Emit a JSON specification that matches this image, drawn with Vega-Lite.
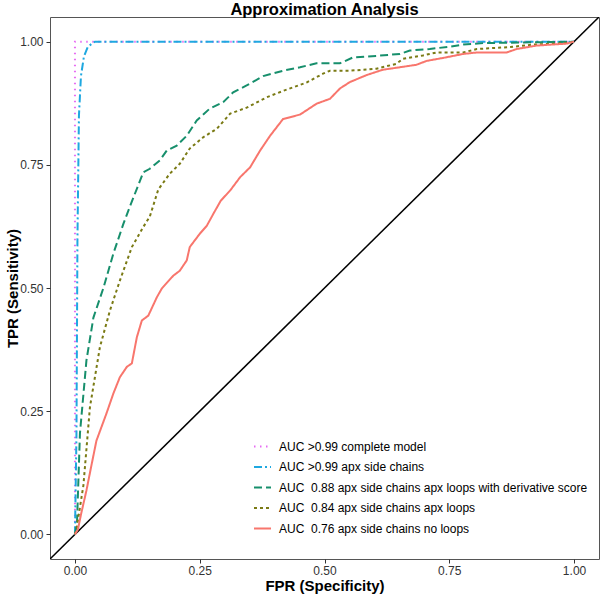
{
  "$schema": "https://vega.github.io/schema/vega-lite/v6.json",
  "autosize": "none",
  "width": 549,
  "height": 542,
  "padding": {"left": 50, "top": 17, "right": 1, "bottom": 37},
  "background": "white",
  "title": {"text": "Approximation Analysis", "font": "Liberation Sans", "fontSize": 16.5, "fontWeight": "bold", "color": "black", "anchor": "middle", "offset": -1},
  "config": {
    "view": {"stroke": "#555555", "strokeWidth": 1},
    "axis": {"grid": false, "domain": false, "labelFont": "Liberation Sans", "labelFontSize": 12, "labelColor": "#333333", "tickColor": "#333333", "tickSize": 4, "titleFont": "Liberation Sans", "titleFontSize": 15, "titleFontWeight": "bold", "titleColor": "black"}
  },
  "datasets": {
    "roc": [
      {"model": "AUC >0.99 complete model", "s": 1, "fpr": 0, "tpr": 0},
      {"model": "AUC >0.99 complete model", "s": 2, "fpr": 0, "tpr": 1},
      {"model": "AUC >0.99 complete model", "s": 3, "fpr": 1, "tpr": 1},

      {"model": "AUC >0.99 apx side chains", "s": 1, "fpr": 0, "tpr": 0},
      {"model": "AUC >0.99 apx side chains", "s": 2, "fpr": 0.003, "tpr": 0.2},
      {"model": "AUC >0.99 apx side chains", "s": 3, "fpr": 0.005, "tpr": 0.6},
      {"model": "AUC >0.99 apx side chains", "s": 4, "fpr": 0.008, "tpr": 0.85},
      {"model": "AUC >0.99 apx side chains", "s": 5, "fpr": 0.012, "tpr": 0.93},
      {"model": "AUC >0.99 apx side chains", "s": 6, "fpr": 0.018, "tpr": 0.97},
      {"model": "AUC >0.99 apx side chains", "s": 7, "fpr": 0.026, "tpr": 0.99},
      {"model": "AUC >0.99 apx side chains", "s": 8, "fpr": 0.04, "tpr": 1},
      {"model": "AUC >0.99 apx side chains", "s": 9, "fpr": 1, "tpr": 1},

      {"model": "AUC\u00a0 0.88 apx side chains apx loops with derivative score", "s": 1, "fpr": 0, "tpr": 0},
      {"model": "AUC\u00a0 0.88 apx side chains apx loops with derivative score", "s": 2, "fpr": 0.004, "tpr": 0.02},
      {"model": "AUC\u00a0 0.88 apx side chains apx loops with derivative score", "s": 3, "fpr": 0.01, "tpr": 0.205},
      {"model": "AUC\u00a0 0.88 apx side chains apx loops with derivative score", "s": 4, "fpr": 0.023, "tpr": 0.353},
      {"model": "AUC\u00a0 0.88 apx side chains apx loops with derivative score", "s": 5, "fpr": 0.037, "tpr": 0.44},
      {"model": "AUC\u00a0 0.88 apx side chains apx loops with derivative score", "s": 6, "fpr": 0.057, "tpr": 0.5},
      {"model": "AUC\u00a0 0.88 apx side chains apx loops with derivative score", "s": 7, "fpr": 0.077, "tpr": 0.57},
      {"model": "AUC\u00a0 0.88 apx side chains apx loops with derivative score", "s": 8, "fpr": 0.097, "tpr": 0.63},
      {"model": "AUC\u00a0 0.88 apx side chains apx loops with derivative score", "s": 9, "fpr": 0.11, "tpr": 0.665},
      {"model": "AUC\u00a0 0.88 apx side chains apx loops with derivative score", "s": 10, "fpr": 0.137, "tpr": 0.735},
      {"model": "AUC\u00a0 0.88 apx side chains apx loops with derivative score", "s": 11, "fpr": 0.15, "tpr": 0.742},
      {"model": "AUC\u00a0 0.88 apx side chains apx loops with derivative score", "s": 12, "fpr": 0.17, "tpr": 0.759},
      {"model": "AUC\u00a0 0.88 apx side chains apx loops with derivative score", "s": 13, "fpr": 0.184, "tpr": 0.779},
      {"model": "AUC\u00a0 0.88 apx side chains apx loops with derivative score", "s": 14, "fpr": 0.204, "tpr": 0.789},
      {"model": "AUC\u00a0 0.88 apx side chains apx loops with derivative score", "s": 15, "fpr": 0.224, "tpr": 0.809},
      {"model": "AUC\u00a0 0.88 apx side chains apx loops with derivative score", "s": 16, "fpr": 0.244, "tpr": 0.84},
      {"model": "AUC\u00a0 0.88 apx side chains apx loops with derivative score", "s": 17, "fpr": 0.27, "tpr": 0.864},
      {"model": "AUC\u00a0 0.88 apx side chains apx loops with derivative score", "s": 18, "fpr": 0.297, "tpr": 0.877},
      {"model": "AUC\u00a0 0.88 apx side chains apx loops with derivative score", "s": 19, "fpr": 0.317, "tpr": 0.897},
      {"model": "AUC\u00a0 0.88 apx side chains apx loops with derivative score", "s": 20, "fpr": 0.344, "tpr": 0.911},
      {"model": "AUC\u00a0 0.88 apx side chains apx loops with derivative score", "s": 21, "fpr": 0.377, "tpr": 0.93},
      {"model": "AUC\u00a0 0.88 apx side chains apx loops with derivative score", "s": 22, "fpr": 0.417, "tpr": 0.941},
      {"model": "AUC\u00a0 0.88 apx side chains apx loops with derivative score", "s": 23, "fpr": 0.451, "tpr": 0.948},
      {"model": "AUC\u00a0 0.88 apx side chains apx loops with derivative score", "s": 24, "fpr": 0.484, "tpr": 0.956},
      {"model": "AUC\u00a0 0.88 apx side chains apx loops with derivative score", "s": 25, "fpr": 0.531, "tpr": 0.956},
      {"model": "AUC\u00a0 0.88 apx side chains apx loops with derivative score", "s": 26, "fpr": 0.557, "tpr": 0.968},
      {"model": "AUC\u00a0 0.88 apx side chains apx loops with derivative score", "s": 27, "fpr": 0.604, "tpr": 0.971},
      {"model": "AUC\u00a0 0.88 apx side chains apx loops with derivative score", "s": 28, "fpr": 0.651, "tpr": 0.975},
      {"model": "AUC\u00a0 0.88 apx side chains apx loops with derivative score", "s": 29, "fpr": 0.671, "tpr": 0.982},
      {"model": "AUC\u00a0 0.88 apx side chains apx loops with derivative score", "s": 30, "fpr": 0.711, "tpr": 0.985},
      {"model": "AUC\u00a0 0.88 apx side chains apx loops with derivative score", "s": 31, "fpr": 0.752, "tpr": 0.99},
      {"model": "AUC\u00a0 0.88 apx side chains apx loops with derivative score", "s": 32, "fpr": 0.778, "tpr": 0.994},
      {"model": "AUC\u00a0 0.88 apx side chains apx loops with derivative score", "s": 33, "fpr": 0.818, "tpr": 0.997},
      {"model": "AUC\u00a0 0.88 apx side chains apx loops with derivative score", "s": 34, "fpr": 1, "tpr": 1},

      {"model": "AUC\u00a0 0.84 apx side chains apx loops", "s": 1, "fpr": 0, "tpr": 0},
      {"model": "AUC\u00a0 0.84 apx side chains apx loops", "s": 2, "fpr": 0.003, "tpr": 0.01},
      {"model": "AUC\u00a0 0.84 apx side chains apx loops", "s": 3, "fpr": 0.017, "tpr": 0.1},
      {"model": "AUC\u00a0 0.84 apx side chains apx loops", "s": 4, "fpr": 0.03, "tpr": 0.258},
      {"model": "AUC\u00a0 0.84 apx side chains apx loops", "s": 5, "fpr": 0.05, "tpr": 0.38},
      {"model": "AUC\u00a0 0.84 apx side chains apx loops", "s": 6, "fpr": 0.07, "tpr": 0.454},
      {"model": "AUC\u00a0 0.84 apx side chains apx loops", "s": 7, "fpr": 0.09, "tpr": 0.515},
      {"model": "AUC\u00a0 0.84 apx side chains apx loops", "s": 8, "fpr": 0.114, "tpr": 0.583},
      {"model": "AUC\u00a0 0.84 apx side chains apx loops", "s": 9, "fpr": 0.137, "tpr": 0.624},
      {"model": "AUC\u00a0 0.84 apx side chains apx loops", "s": 10, "fpr": 0.15, "tpr": 0.645},
      {"model": "AUC\u00a0 0.84 apx side chains apx loops", "s": 11, "fpr": 0.167, "tpr": 0.7},
      {"model": "AUC\u00a0 0.84 apx side chains apx loops", "s": 12, "fpr": 0.19, "tpr": 0.732},
      {"model": "AUC\u00a0 0.84 apx side chains apx loops", "s": 13, "fpr": 0.21, "tpr": 0.752},
      {"model": "AUC\u00a0 0.84 apx side chains apx loops", "s": 14, "fpr": 0.23, "tpr": 0.783},
      {"model": "AUC\u00a0 0.84 apx side chains apx loops", "s": 15, "fpr": 0.257, "tpr": 0.806},
      {"model": "AUC\u00a0 0.84 apx side chains apx loops", "s": 16, "fpr": 0.284, "tpr": 0.823},
      {"model": "AUC\u00a0 0.84 apx side chains apx loops", "s": 17, "fpr": 0.311, "tpr": 0.854},
      {"model": "AUC\u00a0 0.84 apx side chains apx loops", "s": 18, "fpr": 0.344, "tpr": 0.866},
      {"model": "AUC\u00a0 0.84 apx side chains apx loops", "s": 19, "fpr": 0.384, "tpr": 0.887},
      {"model": "AUC\u00a0 0.84 apx side chains apx loops", "s": 20, "fpr": 0.417, "tpr": 0.9},
      {"model": "AUC\u00a0 0.84 apx side chains apx loops", "s": 21, "fpr": 0.464, "tpr": 0.917},
      {"model": "AUC\u00a0 0.84 apx side chains apx loops", "s": 22, "fpr": 0.497, "tpr": 0.935},
      {"model": "AUC\u00a0 0.84 apx side chains apx loops", "s": 23, "fpr": 0.511, "tpr": 0.941},
      {"model": "AUC\u00a0 0.84 apx side chains apx loops", "s": 24, "fpr": 0.551, "tpr": 0.941},
      {"model": "AUC\u00a0 0.84 apx side chains apx loops", "s": 25, "fpr": 0.604, "tpr": 0.945},
      {"model": "AUC\u00a0 0.84 apx side chains apx loops", "s": 26, "fpr": 0.644, "tpr": 0.955},
      {"model": "AUC\u00a0 0.84 apx side chains apx loops", "s": 27, "fpr": 0.657, "tpr": 0.965},
      {"model": "AUC\u00a0 0.84 apx side chains apx loops", "s": 28, "fpr": 0.697, "tpr": 0.972},
      {"model": "AUC\u00a0 0.84 apx side chains apx loops", "s": 29, "fpr": 0.725, "tpr": 0.978},
      {"model": "AUC\u00a0 0.84 apx side chains apx loops", "s": 30, "fpr": 0.778, "tpr": 0.978},
      {"model": "AUC\u00a0 0.84 apx side chains apx loops", "s": 31, "fpr": 0.805, "tpr": 0.985},
      {"model": "AUC\u00a0 0.84 apx side chains apx loops", "s": 32, "fpr": 0.872, "tpr": 0.989},
      {"model": "AUC\u00a0 0.84 apx side chains apx loops", "s": 33, "fpr": 0.918, "tpr": 0.994},
      {"model": "AUC\u00a0 0.84 apx side chains apx loops", "s": 34, "fpr": 0.985, "tpr": 0.997},
      {"model": "AUC\u00a0 0.84 apx side chains apx loops", "s": 35, "fpr": 1, "tpr": 1},

      {"model": "AUC\u00a0 0.76 apx side chains no loops", "s": 1, "fpr": 0, "tpr": 0},
      {"model": "AUC\u00a0 0.76 apx side chains no loops", "s": 2, "fpr": 0.006, "tpr": 0.01},
      {"model": "AUC\u00a0 0.76 apx side chains no loops", "s": 3, "fpr": 0.012, "tpr": 0.04},
      {"model": "AUC\u00a0 0.76 apx side chains no loops", "s": 4, "fpr": 0.023, "tpr": 0.089},
      {"model": "AUC\u00a0 0.76 apx side chains no loops", "s": 5, "fpr": 0.033, "tpr": 0.14},
      {"model": "AUC\u00a0 0.76 apx side chains no loops", "s": 6, "fpr": 0.043, "tpr": 0.19},
      {"model": "AUC\u00a0 0.76 apx side chains no loops", "s": 7, "fpr": 0.063, "tpr": 0.245},
      {"model": "AUC\u00a0 0.76 apx side chains no loops", "s": 8, "fpr": 0.077, "tpr": 0.286},
      {"model": "AUC\u00a0 0.76 apx side chains no loops", "s": 9, "fpr": 0.09, "tpr": 0.319},
      {"model": "AUC\u00a0 0.76 apx side chains no loops", "s": 10, "fpr": 0.104, "tpr": 0.34},
      {"model": "AUC\u00a0 0.76 apx side chains no loops", "s": 11, "fpr": 0.114, "tpr": 0.347},
      {"model": "AUC\u00a0 0.76 apx side chains no loops", "s": 12, "fpr": 0.124, "tpr": 0.4},
      {"model": "AUC\u00a0 0.76 apx side chains no loops", "s": 13, "fpr": 0.134, "tpr": 0.434},
      {"model": "AUC\u00a0 0.76 apx side chains no loops", "s": 14, "fpr": 0.147, "tpr": 0.444},
      {"model": "AUC\u00a0 0.76 apx side chains no loops", "s": 15, "fpr": 0.164, "tpr": 0.481},
      {"model": "AUC\u00a0 0.76 apx side chains no loops", "s": 16, "fpr": 0.174, "tpr": 0.499},
      {"model": "AUC\u00a0 0.76 apx side chains no loops", "s": 17, "fpr": 0.197, "tpr": 0.525},
      {"model": "AUC\u00a0 0.76 apx side chains no loops", "s": 18, "fpr": 0.21, "tpr": 0.535},
      {"model": "AUC\u00a0 0.76 apx side chains no loops", "s": 19, "fpr": 0.224, "tpr": 0.556},
      {"model": "AUC\u00a0 0.76 apx side chains no loops", "s": 20, "fpr": 0.23, "tpr": 0.583},
      {"model": "AUC\u00a0 0.76 apx side chains no loops", "s": 21, "fpr": 0.25, "tpr": 0.61},
      {"model": "AUC\u00a0 0.76 apx side chains no loops", "s": 22, "fpr": 0.264, "tpr": 0.626},
      {"model": "AUC\u00a0 0.76 apx side chains no loops", "s": 23, "fpr": 0.277, "tpr": 0.65},
      {"model": "AUC\u00a0 0.76 apx side chains no loops", "s": 24, "fpr": 0.292, "tpr": 0.677},
      {"model": "AUC\u00a0 0.76 apx side chains no loops", "s": 25, "fpr": 0.311, "tpr": 0.698},
      {"model": "AUC\u00a0 0.76 apx side chains no loops", "s": 26, "fpr": 0.331, "tpr": 0.725},
      {"model": "AUC\u00a0 0.76 apx side chains no loops", "s": 27, "fpr": 0.351, "tpr": 0.745},
      {"model": "AUC\u00a0 0.76 apx side chains no loops", "s": 28, "fpr": 0.371, "tpr": 0.779},
      {"model": "AUC\u00a0 0.76 apx side chains no loops", "s": 29, "fpr": 0.391, "tpr": 0.809},
      {"model": "AUC\u00a0 0.76 apx side chains no loops", "s": 30, "fpr": 0.417, "tpr": 0.843},
      {"model": "AUC\u00a0 0.76 apx side chains no loops", "s": 31, "fpr": 0.451, "tpr": 0.852},
      {"model": "AUC\u00a0 0.76 apx side chains no loops", "s": 32, "fpr": 0.484, "tpr": 0.874},
      {"model": "AUC\u00a0 0.76 apx side chains no loops", "s": 33, "fpr": 0.511, "tpr": 0.884},
      {"model": "AUC\u00a0 0.76 apx side chains no loops", "s": 34, "fpr": 0.531, "tpr": 0.905},
      {"model": "AUC\u00a0 0.76 apx side chains no loops", "s": 35, "fpr": 0.551, "tpr": 0.918},
      {"model": "AUC\u00a0 0.76 apx side chains no loops", "s": 36, "fpr": 0.584, "tpr": 0.932},
      {"model": "AUC\u00a0 0.76 apx side chains no loops", "s": 37, "fpr": 0.617, "tpr": 0.943},
      {"model": "AUC\u00a0 0.76 apx side chains no loops", "s": 38, "fpr": 0.651, "tpr": 0.948},
      {"model": "AUC\u00a0 0.76 apx side chains no loops", "s": 39, "fpr": 0.684, "tpr": 0.953},
      {"model": "AUC\u00a0 0.76 apx side chains no loops", "s": 40, "fpr": 0.705, "tpr": 0.961},
      {"model": "AUC\u00a0 0.76 apx side chains no loops", "s": 41, "fpr": 0.738, "tpr": 0.967},
      {"model": "AUC\u00a0 0.76 apx side chains no loops", "s": 42, "fpr": 0.778, "tpr": 0.975},
      {"model": "AUC\u00a0 0.76 apx side chains no loops", "s": 43, "fpr": 0.805, "tpr": 0.978},
      {"model": "AUC\u00a0 0.76 apx side chains no loops", "s": 44, "fpr": 0.865, "tpr": 0.978},
      {"model": "AUC\u00a0 0.76 apx side chains no loops", "s": 45, "fpr": 0.885, "tpr": 0.985},
      {"model": "AUC\u00a0 0.76 apx side chains no loops", "s": 46, "fpr": 0.925, "tpr": 0.992},
      {"model": "AUC\u00a0 0.76 apx side chains no loops", "s": 47, "fpr": 0.985, "tpr": 0.996},
      {"model": "AUC\u00a0 0.76 apx side chains no loops", "s": 48, "fpr": 1, "tpr": 1}
    ],
    "diag": [
      {"fpr": -0.05, "tpr": -0.05},
      {"fpr": 1.05, "tpr": 1.05}
    ]
  },
  "layer": [
    {
      "data": {"name": "diag"},
      "mark": {"type": "line", "color": "black", "strokeWidth": 1.5, "clip": true},
      "encoding": {
        "x": {"field": "fpr", "type": "quantitative"},
        "y": {"field": "tpr", "type": "quantitative"}
      }
    },
    {
      "data": {"name": "roc"},
      "mark": {"type": "line", "strokeWidth": 2, "clip": true},
      "encoding": {
        "x": {"field": "fpr", "type": "quantitative", "title": "FPR (Specificity)",
          "scale": {"domain": [-0.05, 1.05], "nice": false, "zero": false},
          "axis": {"values": [0, 0.25, 0.5, 0.75, 1], "format": ".2f", "labelPadding": 2, "titleY": 31, "titleBaseline": "alphabetic"}},
        "y": {"field": "tpr", "type": "quantitative", "title": "TPR (Sensitivity)",
          "scale": {"domain": [-0.05, 1.05], "nice": false, "zero": false},
          "axis": {"values": [0, 0.25, 0.5, 0.75, 1], "format": ".2f", "labelPadding": 3, "titleX": -38, "titleBaseline": "middle"}},
        "order": {"field": "s", "type": "quantitative"},
        "color": {"field": "model", "type": "nominal",
          "scale": {
            "domain": ["AUC >0.99 complete model", "AUC >0.99 apx side chains", "AUC\u00a0 0.88 apx side chains apx loops with derivative score", "AUC\u00a0 0.84 apx side chains apx loops", "AUC\u00a0 0.76 apx side chains no loops"],
            "range": ["#E76BF3", "#1FA8E0", "#178F6C", "#7A7A14", "#F8766D"]
          },
          "legend": {"title": null, "orient": "none", "legendX": 203, "legendY": 420, "padding": 0,
            "symbolType": "stroke", "symbolSize": 289, "symbolStrokeWidth": 2, "labelOffset": 7,
            "labelFont": "Liberation Sans", "labelFontSize": 12, "labelColor": "black", "rowPadding": 4.5, "labelLimit": 400}},
        "strokeDash": {"field": "model", "type": "nominal",
          "scale": {
            "domain": ["AUC >0.99 complete model", "AUC >0.99 apx side chains", "AUC\u00a0 0.88 apx side chains apx loops with derivative score", "AUC\u00a0 0.84 apx side chains apx loops", "AUC\u00a0 0.76 apx side chains no loops"],
            "range": [[1.5, 4.5], [8, 3, 2, 3], [8, 4], [3, 3], [1, 0]]
          },
          "legend": {"title": null, "orient": "none", "legendX": 203, "legendY": 420, "padding": 0,
            "symbolType": "stroke", "symbolSize": 289, "symbolStrokeWidth": 2, "labelOffset": 7,
            "labelFont": "Liberation Sans", "labelFontSize": 12, "labelColor": "black", "rowPadding": 4.5, "labelLimit": 400}}
      }
    }
  ]
}
